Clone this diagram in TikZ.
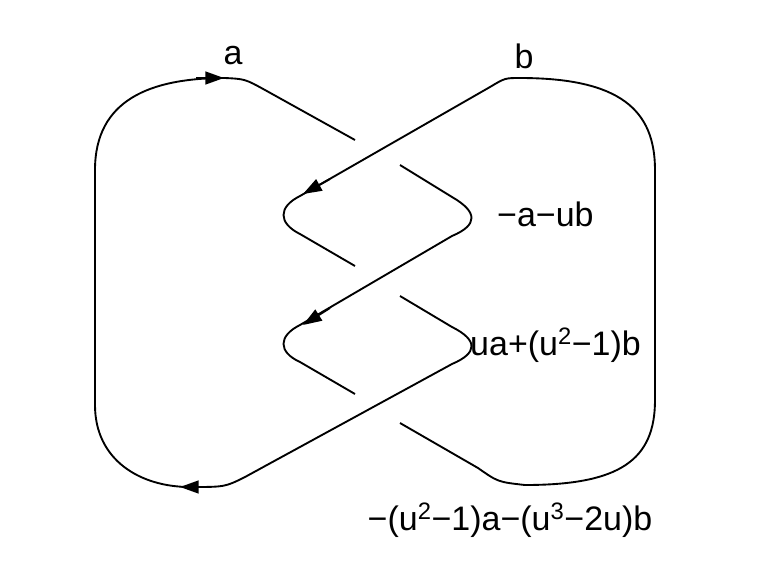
\documentclass[tikz,border=0pt]{standalone}
\usepackage{fontspec}
\setmainfont{Liberation Sans}
\usetikzlibrary{arrows.meta}
\tikzset{
	strand/.style = {line width = 1.6pt, line join = round},
	tip/.style = {line width = 1.6pt, -{Triangle[length = 16pt, width = 11pt]}},
	lab/.style = {font = \fontsize{29}{34}\selectfont, inner sep = 0pt}
}
\begin{document}
\begin{tikzpicture}[x = 0.03cm, y = -0.03cm]
	\useasboundingbox (0,0) rectangle (773,580);
	% under pieces of the knot
	\draw[strand] (400,165) -- (452,197) .. controls (478,212) and (478,225) .. (452,236) -- (300,325)
		.. controls (278,336) and (278,352) .. (300,362) -- (355,394);
	\draw[strand] (400,423) -- (478,468) .. controls (498,482) .. (525,485)
		.. controls (620,485) and (655,460) .. (655,400) -- (655,170)
		.. controls (655,110) and (620,78) .. (520,78) .. controls (505,78) .. (490,87)
		-- (300,196) .. controls (278,207) and (278,223) .. (300,234) -- (355,266);
	\draw[strand] (400,296) -- (452,327) .. controls (478,340) and (478,353) .. (452,364) -- (245,477)
		.. controls (225,487) .. (190,487) .. controls (140,487) and (95,460) .. (95,405)
		-- (95,170) .. controls (95,100) and (150,78) .. (225,78)
		.. controls (245,79) .. (265,90) -- (355,140);
	% arrow heads
	\coordinate (t1) at (196,78);
	\coordinate (t2) at (224,78);
	\draw[tip] (t1) -- (t2);
	\coordinate (t3) at (330,179);
	\coordinate (t4) at (303,194);
	\draw[tip] (t3) -- (t4);
	\coordinate (t5) at (330,308);
	\coordinate (t6) at (303,325);
	\draw[tip] (t5) -- (t6);
	\coordinate (t7) at (205,487);
	\coordinate (t8) at (180,487);
	\draw[tip] (t7) -- (t8);
	% labels
	\node[lab] (la) at (233,56) {a};
	\node[lab] (lb) at (524,56) {b};
	\node[lab, anchor = west] (l1) at (497,214) {−a−ub};
	\node[lab, anchor = west] (l2) at (470,345) {ua+(u\textsuperscript{2}−1)b};
	\node[lab] (l3) at (510,520) {−(u\textsuperscript{2}−1)a−(u\textsuperscript{3}−2u)b};
\end{tikzpicture}
\end{document}
